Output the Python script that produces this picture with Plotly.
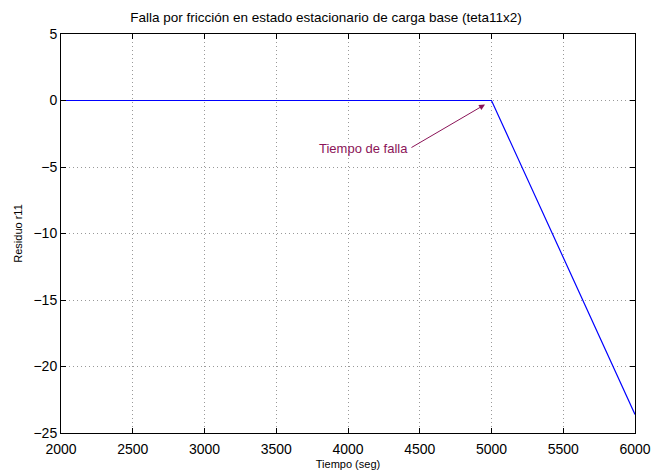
import plotly.graph_objects as go

# Residual r11 over time (friction fault at t = 5000 s)
tiempo = [2000, 5000, 6000]
residuo = [0, 0, -23.6]

x_ticks = [2000, 2500, 3000, 3500, 4000, 4500, 5000, 5500, 6000]
y_ticks = [5, 0, -5, -10, -15, -20, -25]

FONT = "Liberation Sans, Arial"

fig = go.Figure()
fig.add_trace(go.Scatter(x=tiempo, y=residuo, mode="lines",
                         line=dict(color="#0000ff", width=1.2),
                         showlegend=False, hoverinfo="skip"))

axis_common = dict(
    showline=True, linecolor="black", linewidth=1, mirror="ticks",
    ticks="inside", ticklen=5, tickcolor="black",
    showgrid=True, gridcolor="#999999", griddash="1px 3px", gridwidth=1,
    zeroline=False, automargin=False,
    tickfont=dict(family=FONT, size=14, color="black"),
)

fig.update_xaxes(range=[2000, 6000], tickvals=x_ticks, ticklabelstandoff=3,
                 title=dict(text="Tiempo (seg)", standoff=4,
                            font=dict(family=FONT, size=11, color="black")),
                 **axis_common)
fig.update_yaxes(range=[-25, 5], tickvals=y_ticks,
                 title=dict(text="Residuo r11", standoff=8,
                            font=dict(family=FONT, size=11, color="black")),
                 **axis_common)

# fault-time annotation: label plus arrow pointing to the break point
fig.add_annotation(x=4432, y=-3.6, xref="x", yref="y", text="Tiempo de falla",
                   showarrow=False, xanchor="right", yanchor="middle",
                   font=dict(family=FONT, size=13, color="#8b1458"))
fig.add_annotation(x=4955, y=-0.3, ax=4432, ay=-3.6, xref="x", yref="y",
                   axref="x", ayref="y", text="", showarrow=True,
                   arrowhead=2, arrowsize=1.2, arrowwidth=1, arrowcolor="#8b1458")

fig.update_layout(
    width=652, height=473,
    margin=dict(l=61, r=17, t=34, b=40),
    paper_bgcolor="white", plot_bgcolor="white",
    title=dict(text="Falla por fricción en estado estacionario de carga base (teta11x2)",
               x=0.5, xanchor="center", y=1 - 17 / 473, yanchor="middle",
               font=dict(family=FONT, size=13.5, color="black")),
)

fig.write_html("out.html")
